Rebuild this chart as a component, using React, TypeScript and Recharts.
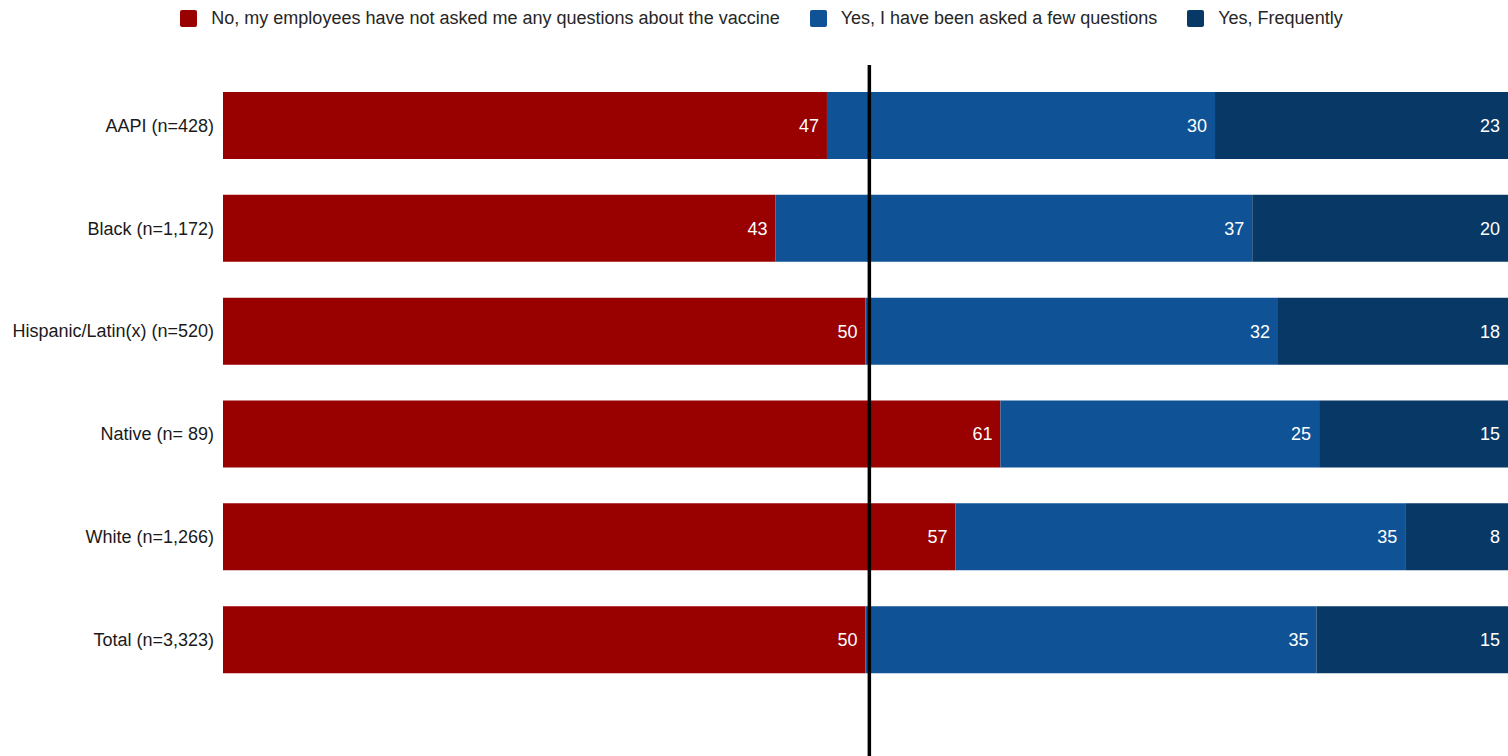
import React from "react";
import { BarChart, Bar, XAxis, YAxis, LabelList, ReferenceLine, Legend } from "recharts";

const categories = [
  "AAPI (n=428)",
  "Black (n=1,172)",
  "Hispanic/Latin(x) (n=520)",
  "Native (n= 89)",
  "White (n=1,266)",
  "Total (n=3,323)",
];
const noQuestions = [47, 43, 50, 60.5, 57, 50];
const fewQuestions = [30.2, 37.1, 32.1, 24.8, 35, 35.1];
const frequently = [22.8, 19.9, 17.9, 14.7, 8, 14.9];
const seriesNames = [
  "No, my employees have not asked me any questions about the vaccine",
  "Yes, I have been asked a few questions",
  "Yes, Frequently",
];
const seriesColors = ["#990000", "#0F5396", "#083865"];
const referenceValue = 50.3;

const data = categories.map((name, i) => ({
  name,
  no: noQuestions[i],
  few: fewQuestions[i],
  freq: frequently[i],
}));

const FONT = "'Liberation Sans', Arial, sans-serif";

const LegendContent = () => (
  <div
    style={{
      height: 36,
      width: 1508,
      display: "flex",
      justifyContent: "center",
      alignItems: "flex-start",
      fontFamily: FONT,
      fontSize: 18,
      color: "#262626",
      paddingLeft: 15,
      boxSizing: "border-box",
    }}
  >
    {seriesNames.map((n, i) => (
      <div
        key={n}
        style={{
          display: "flex",
          alignItems: "center",
          marginLeft: i === 0 ? 0 : 30,
          marginTop: 8,
        }}
      >
        <span
          style={{
            display: "inline-block",
            width: 17,
            height: 17,
            background: seriesColors[i],
            borderRadius: 2,
            marginRight: 14,
          }}
        />
        <span style={{ lineHeight: "20px" }}>{n}</span>
      </div>
    ))}
  </div>
);

const fmt = (v: any) => Math.round(Number(v));

export default function App() {
  return (
    <div style={{ position: "absolute", left: 0, top: 0, width: 1508, height: 756 }}>
      <BarChart
        width={1508}
        height={756}
        data={data}
        layout="vertical"
        margin={{ top: 29, right: 0, bottom: 0, left: 0 }}
        barSize={67}
      >
        <XAxis type="number" domain={[0, 100]} hide />
        <YAxis
          type="category"
          dataKey="name"
          width={223}
          axisLine={false}
          tickLine={false}
          tickSize={0}
          tickMargin={9}
          padding={{ top: 9, bottom: 65 }}
          tick={{ fontSize: 18, fill: "#1a1a1a", fontFamily: FONT }}
        />
        <Legend
          verticalAlign="top"
          content={<LegendContent />}
          wrapperStyle={{ top: 0, left: 0 }}
        />
        <Bar dataKey="no" stackId="a" fill={seriesColors[0]} isAnimationActive={false}>
          <LabelList
            dataKey="no"
            position="insideRight"
            offset={8}
            formatter={fmt}
            style={{ fill: "#ffffff", fontSize: 18, fontFamily: FONT }}
          />
        </Bar>
        <Bar dataKey="few" stackId="a" fill={seriesColors[1]} isAnimationActive={false}>
          <LabelList
            dataKey="few"
            position="insideRight"
            offset={8}
            formatter={fmt}
            style={{ fill: "#ffffff", fontSize: 18, fontFamily: FONT }}
          />
        </Bar>
        <Bar dataKey="freq" stackId="a" fill={seriesColors[2]} isAnimationActive={false}>
          <LabelList
            dataKey="freq"
            position="insideRight"
            offset={8}
            formatter={fmt}
            style={{ fill: "#ffffff", fontSize: 18, fontFamily: FONT }}
          />
        </Bar>
        <ReferenceLine x={referenceValue} stroke="#000000" strokeWidth={3.5} />
      </BarChart>
    </div>
  );
}
